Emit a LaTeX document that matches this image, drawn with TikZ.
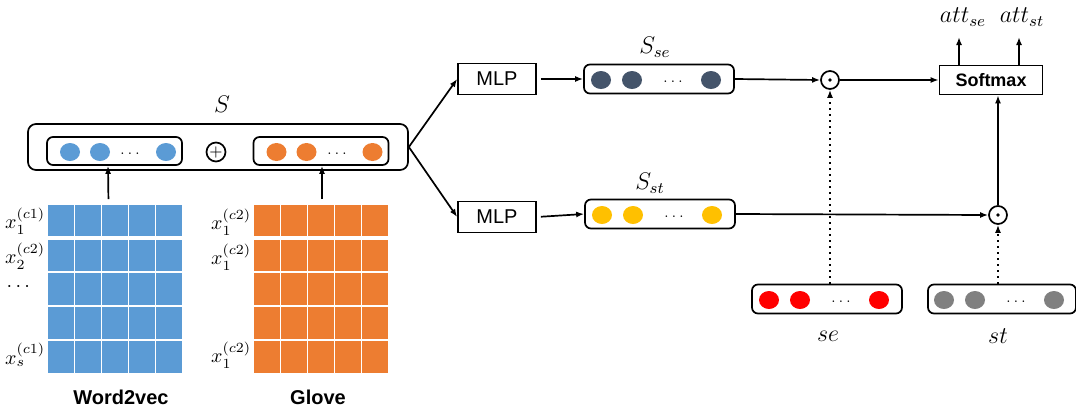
\documentclass[tikz,border=0pt]{standalone}
\usepackage{fontspec}
\setsansfont{Liberation Sans}
\usepackage{amsmath}
\usetikzlibrary{calc,arrows.meta}
\definecolor{wblue}{HTML}{5B9BD5}
\definecolor{worange}{HTML}{ED7D31}
\definecolor{wslate}{HTML}{44546A}
\definecolor{wyellow}{HTML}{FFC000}
\definecolor{wred}{HTML}{FF0000}
\definecolor{wgrey}{HTML}{808080}
\tikzset{
    embgrid/.style={fill=#1,minimum width=67pt,minimum height=84pt,inner sep=0pt},
    vecbox/.style={draw,rounded corners=3pt,minimum width=75pt,minimum height=14.5pt,inner sep=0pt},
    invec/.style={draw,rounded corners=3pt,minimum width=67.5pt,minimum height=14pt,inner sep=0pt},
    layer/.style={draw,font=\sffamily,inner sep=0pt},
    odot/.style={draw,circle,minimum size=9pt,inner sep=0pt},
  }
\begin{document}
\begin{tikzpicture}[x=0.5pt,y=-0.5pt,line width=0.85pt,>={Latex[length=4pt,width=3pt]}]
  %1px = 0.5pt, y vers le bas
  %grilles d'embeddings : blanc par dessus
  \useasboundingbox (0,0) rectangle (1076,413);
  \node[embgrid=wblue](w2v) at (115,289) {};
  \node[embgrid=worange](glove) at (321,289) {};
  \foreach \g in {w2v,glove}{
    \foreach \i in {1,...,4}{
      \draw[white,line width=0.6pt] ($(\g.north west)!\i/5!(\g.north east)$) -- ($(\g.south west)!\i/5!(\g.south east)$);
      \draw[white,line width=0.6pt] ($(\g.north west)!\i/5!(\g.south west)$) -- ($(\g.north east)!\i/5!(\g.south east)$);
    }
    \draw[white,line width=1.6pt] ($(\g.north west)!0.2!(\g.south west)$) -- ($(\g.north east)!0.2!(\g.south east)$);
  }
  \node[anchor=east,inner sep=1pt](xa) at (48,221) {$x_1^{(c1)}$};
  \node[anchor=east,inner sep=1pt](xb) at (48,256) {$x_2^{(c2)}$};
  \node(xc) at (20,287) {$\cdots$};
  \node[anchor=east,inner sep=1pt](xd) at (48,355) {$x_s^{(c1)}$};
  \node[anchor=east,inner sep=1pt](ya) at (254,222) {$x_1^{(c2)}$};
  \node[anchor=east,inner sep=1pt](yb) at (254,257) {$x_1^{(c2)}$};
  \node[anchor=east,inner sep=1pt](yd) at (254,355) {$x_1^{(c2)}$};
  \node[font=\sffamily\bfseries](lw2v) at (121,397) {Word2vec};
  \node[font=\sffamily\bfseries](lglove) at (318,397) {Glove};

  %vecteur S
  \node[draw,rounded corners=4pt,minimum width=190pt,minimum height=23pt](sbox) at (218,147) {};
  \node(slab) at (222,104) {\large$S$};
  \node[invec](vw2v) at (114.5,151) {};
  \node[invec](vglove) at (321,151) {};
  \node[odot,minimum size=9.5pt](plus) at (216,152) {\footnotesize$+$};
  \foreach \dx in {-44.5,-14.5,51.5}{
    \fill[wblue] ($(vw2v)+(\dx,1)$) ellipse (5pt and 4.5pt);
    \fill[worange] ($(vglove)+(\dx,1)$) ellipse (5pt and 4.5pt);
  }
  \node(dw2v) at ($(vw2v)+(15.5,3)$) {\scriptsize$\ldots$};
  \node(dglove) at ($(vglove)+(16,3)$) {\scriptsize$\ldots$};
  \draw[->,shorten <=2.5pt] ([xshift=-3.25pt]w2v.north) -- ([xshift=-3.25pt]vw2v.south);
  \draw[->,shorten <=2.5pt] ([xshift=0.5pt]glove.north) -- ([xshift=0.5pt]vglove.south);

  %MLP
  \node[layer,minimum width=39pt,minimum height=15.5pt](mlpse) at (497,79) {MLP};
  \node[layer,minimum width=39pt,minimum height=15.5pt](mlpst) at (497,217) {MLP};
  \draw[->] (sbox.east) -- (mlpse.west);
  \draw[->] (sbox.east) -- (mlpst.west);

  \node[vecbox](sse) at (659,79) {};
  \node[vecbox](sst) at (660,214) {};
  \node[vecbox](se) at (827,299) {};
  \node[vecbox,minimum width=74pt](st) at (1002,299) {};
  \node(lsse) at (655,47) {\large$S_{se}$};
  \node(lsst) at (650,183) {\large$S_{st}$};
  \node(lse) at (828,336) {\large$se$};
  \node(lst) at (998,336) {\large$st$};
  \foreach \b/\c in {sse/wslate,sst/wyellow,se/wred,st/wgrey}{
    \foreach \dx in {-58,-27,52}
      \fill[\c] ($(\b)+(\dx,1)$) ellipse (5pt and 4.5pt);
    \node(\b-dots) at ($(\b)+(14,3)$) {\scriptsize$\ldots$};
  }
  \draw[->,shorten <=2pt] (mlpse.east) -- (sse.west);
  \draw[->,shorten <=2pt] (mlpst.east) -- (sst.west);

  %attention
  \node[odot](odse) at (830,80) {};
  \node[odot](odst) at (998,215) {};
  \fill (odse) circle (0.9pt);
  \fill (odst) circle (0.9pt);
  \node[layer,font=\sffamily\bfseries\small,minimum width=51.5pt,minimum height=14.5pt](soft) at (991,80) {Softmax};
  \draw[->] (sse.east) -- (odse.west);
  \draw[->] (odse.east) -- (soft.west);
  \draw[->] (sst.east) -- (odst.west);
  \draw[->] (odst.north) -- (soft.south -| odst);
  \draw[->,dotted,line width=1pt] (se.north -| odse) -- (odse.south);
  \draw[->,dotted,line width=1pt] (st.north -| odst) -- (odst.south);
  \coordinate(ose) at (959,37);
  \coordinate(ost) at (1019,37);
  \draw[->] (soft.north -| ose) -- (ose);
  \draw[->] (soft.north -| ost) -- (ost);
  \node(latse) at (963,17) {\large$att_{se}$};
  \node(latst) at (1022,17) {\large$att_{st}$};
\end{tikzpicture}
\end{document}
